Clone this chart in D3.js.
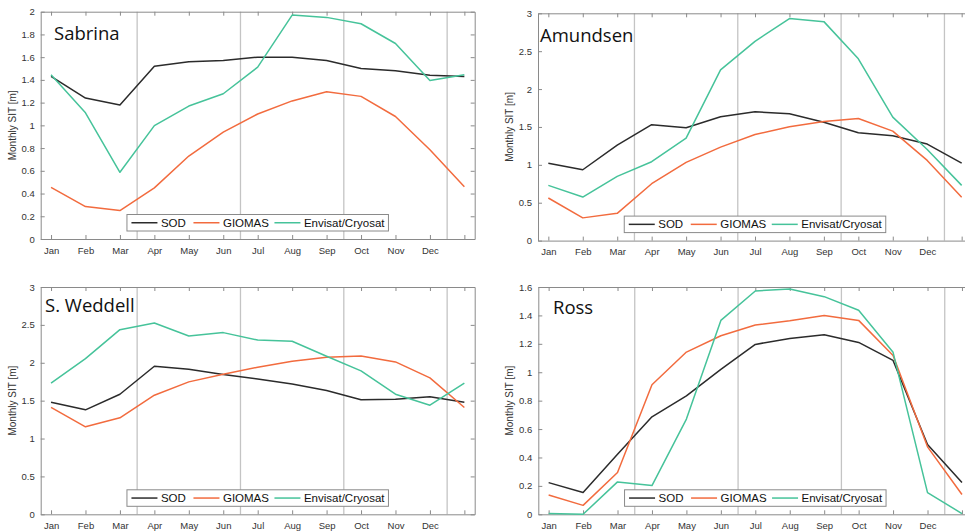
<!DOCTYPE html>
<html>
<head>
<meta charset="utf-8">
<script src="https://cdn.jsdelivr.net/npm/d3@7"></script>
<style>
  html, body { margin: 0; padding: 0; background: #fff; }
  svg { display: block; }
  .tick text { font-family: "Liberation Sans", Arial, sans-serif; }
</style>
</head>
<body>
<svg id="chart" width="965" height="531"></svg>
<script>
// Month labels on the x axis (13th point closes the annual cycle)
const months = ["Jan","Feb","Mar","Apr","May","Jun","Jul","Aug","Sep","Oct","Nov","Dec"];
// Season boundaries drawn as vertical guides (month index)
const seasonBreaks = [2.5, 5.5, 8.5, 11.5];
const seriesNames = ["SOD", "GIOMAS", "Envisat/Cryosat"];

// Monthly sea-ice thickness [m], Jan..Dec + Jan
const sabrinaSOD     = [1.43,1.24,1.18,1.52,1.56,1.57,1.60,1.60,1.57,1.50,1.48,1.44,1.43];
const sabrinaGIOMAS  = [0.455,0.285,0.25,0.45,0.73,0.94,1.10,1.215,1.295,1.255,1.078,0.785,0.46];
const sabrinaEnvisat = [1.445,1.11,0.587,0.998,1.17,1.278,1.512,1.97,1.95,1.894,1.72,1.395,1.445];

const amundsenSOD     = [1.02,0.935,1.26,1.53,1.49,1.635,1.70,1.673,1.563,1.423,1.383,1.274,1.023];
const amundsenGIOMAS  = [0.562,0.30,0.36,0.751,1.032,1.234,1.40,1.502,1.572,1.612,1.445,1.058,0.571];
const amundsenEnvisat = [0.729,0.575,0.848,1.041,1.353,2.253,2.63,2.93,2.89,2.40,1.63,1.203,0.729];

const weddellSOD     = [1.48,1.379,1.585,1.954,1.915,1.845,1.787,1.72,1.634,1.511,1.52,1.55,1.48];
const weddellGIOMAS  = [1.41,1.155,1.274,1.572,1.748,1.849,1.941,2.02,2.073,2.09,2.011,1.80,1.41];
const weddellEnvisat = [1.73,2.055,2.437,2.525,2.354,2.398,2.30,2.284,2.086,1.893,1.585,1.44,1.73];

const rossSOD     = [0.223,0.153,0.423,0.686,0.834,1.02,1.196,1.238,1.264,1.21,1.083,0.491,0.223];
const rossGIOMAS  = [0.136,0.063,0.294,0.912,1.142,1.257,1.332,1.363,1.40,1.365,1.118,0.475,0.139];
const rossEnvisat = [0.005,0.0,0.228,0.202,0.67,1.365,1.572,1.586,1.532,1.436,1.14,0.153,0.005];

// Panel regions, y extents and tick steps
const regions = ["Sabrina", "Amundsen", "S. Weddell", "Ross"];
const yMax = [2, 3, 3, 1.6];
const yStep = [0.2, 0.5, 0.5, 0.2];
const regionSeries = [
  [sabrinaSOD, sabrinaGIOMAS, sabrinaEnvisat],
  [amundsenSOD, amundsenGIOMAS, amundsenEnvisat],
  [weddellSOD, weddellGIOMAS, weddellEnvisat],
  [rossSOD, rossGIOMAS, rossEnvisat]
];

const colors = ["#2b2b2b", "#f26b3e", "#46c39a"];
const layout = [
  { x: 40.7, y: 11.7, titleX: 54, titleY: 39.5 },
  { x: 538.0, y: 13.3, titleX: 540, titleY: 42 },
  { x: 40.7, y: 287.0, titleX: 45, titleY: 311.5 },
  { x: 538.3, y: 287.0, titleX: 553, titleY: 313.5 }
];
const W = 434, H = 227.3;
const axisGray = "#8a8a8a";

const svg = d3.select("#chart");
const fmt = v => String(+v.toFixed(2));

regions.forEach((name, k) => {
  const L = layout[k];
  const g = svg.append("g").attr("transform", `translate(${L.x},${L.y})`);
  const x = d3.scaleLinear().domain([-0.3, 12.3]).range([0, W]);
  const y = d3.scaleLinear().domain([0, yMax[k]]).range([H, 0]);
  const yTicks = d3.range(0, yMax[k] + 1e-9, yStep[k]);
  const xTicks = d3.range(0, 13);

  // Season guides
  g.selectAll("line.season").data(seasonBreaks).join("line")
    .attr("class", "season")
    .attr("x1", d => x(d)).attr("x2", d => x(d))
    .attr("y1", 0).attr("y2", H)
    .attr("stroke", "#c4c4c4").attr("stroke-width", 1.3);

  // Bottom axis with month labels
  const xb = g.append("g").attr("transform", `translate(0,${H})`)
    .call(d3.axisBottom(x).tickValues(xTicks)
      .tickFormat(i => months[i] || "").tickSizeInner(-4).tickSizeOuter(0).tickPadding(8));
  // Left axis
  const yl = g.append("g")
    .call(d3.axisLeft(y).tickValues(yTicks).tickFormat(fmt)
      .tickSizeInner(-4).tickSizeOuter(0).tickPadding(6));
  // Top and right mirrored ticks
  const xt = g.append("g")
    .call(d3.axisTop(x).tickValues(xTicks).tickFormat("").tickSizeInner(-4).tickSizeOuter(0));
  const yr = g.append("g").attr("transform", `translate(${W},0)`)
    .call(d3.axisRight(y).tickValues(yTicks).tickFormat("").tickSizeInner(-4).tickSizeOuter(0));

  [xb, yl, xt, yr].forEach(a => {
    a.select(".domain").attr("stroke", axisGray).attr("stroke-width", 1);
    a.selectAll(".tick line").attr("stroke", axisGray);
    a.selectAll(".tick text").attr("fill", "#333").attr("font-size", 9.5);
  });

  // Series lines
  const line = d3.line().x((d, i) => x(i)).y(d => y(d));
  regionSeries[k].forEach((vals, s) => {
    g.append("path").datum(vals)
      .attr("fill", "none").attr("stroke", colors[s])
      .attr("stroke-width", 1.5).attr("stroke-linejoin", "round")
      .attr("d", line);
  });

  // Y axis label
  g.append("text")
    .attr("transform", `translate(${-25},${H / 2}) rotate(-90)`)
    .attr("text-anchor", "middle")
    .attr("font-family", "'Liberation Sans', Arial, sans-serif")
    .attr("font-size", 10).attr("fill", "#333")
    .text("Monthly SIT [m]");

  // Region title
  svg.append("text")
    .attr("x", L.titleX).attr("y", L.titleY)
    .attr("font-family", "'Open Sans', sans-serif")
    .attr("font-size", 18.5).attr("fill", "#111")
    .text(name);

  // Legend
  const lw = 261.5, lh = 16.5;
  const lg = g.append("g").attr("transform", `translate(${W / 2 - lw / 2},${H - 8 - lh})`);
  lg.append("rect").attr("width", lw).attr("height", lh)
    .attr("fill", "#fff").attr("stroke", axisGray).attr("stroke-width", 1);
  const itemX = [4.5, 66.5, 147.5];
  seriesNames.forEach((sn, s) => {
    lg.append("line")
      .attr("x1", itemX[s]).attr("x2", itemX[s] + 26)
      .attr("y1", lh / 2).attr("y2", lh / 2)
      .attr("stroke", colors[s]).attr("stroke-width", 1.5);
    lg.append("text")
      .attr("x", itemX[s] + 29.5).attr("y", lh / 2 + 4)
      .attr("font-family", "'Liberation Sans', Arial, sans-serif")
      .attr("font-size", 11.5).attr("fill", "#111")
      .text(sn);
  });
});
</script>
</body>
</html>
